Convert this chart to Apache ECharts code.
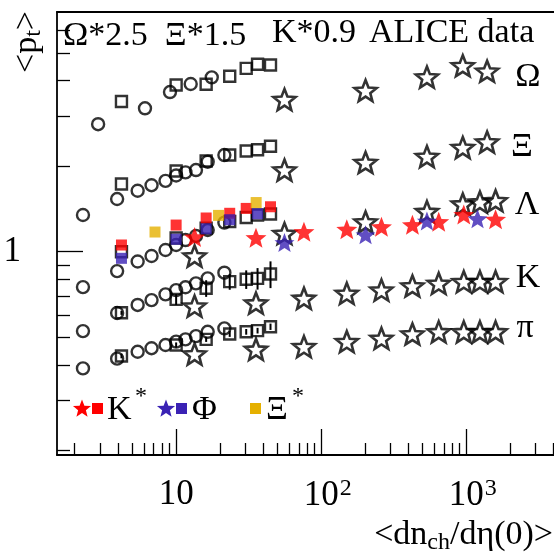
<!DOCTYPE html>
<html><head><meta charset="utf-8">
<script src="https://cdn.jsdelivr.net/npm/echarts@6/dist/echarts.min.js"></script>
<style>html,body{margin:0;padding:0;background:#fff}#c{width:554px;height:558px}</style>
</head><body><div id="c"></div>
<script>
// ---- x positions (<dNch/deta(0)>) ----
const xPP       = [2.28, 3.92, 5.43, 6.77, 8.45, 10.0, 11.6, 13.7, 16.5, 21.5];
const xPPOmega  = [2.9, 6.1, 9.07, 12.6, 17.6];
const xPPb      = [4.2, 10.0, 16.1, 23.4, 30.4, 36.4, 44.7];
const xPbPb     = [13.4, 35.5, 76, 150, 260, 425, 645, 960, 1240, 1590];
const xPbPbOX   = [55.8, 202, 535, 945, 1390];
const xPbPbL    = [13.4, 55.8, 202, 535, 945, 1240, 1590];
// ---- <pT> values (as plotted, incl. scale factors) ----
const omegaPP   = [2.807, 3.192, 3.641, 3.886, 4.102];
const omegaPPb  = [3.373, 3.854, 3.880, 4.139, 4.412, 4.560, 4.531];
const omegaPbPb = [3.428, 3.687, 4.112, 4.506, 4.310];
const xiPP      = [1.346, 1.532, 1.638, 1.713, 1.775, 1.853, 1.901, 1.937, 2.072, 2.187];
const xiPPb     = [1.730, 1.921, 2.084, 2.187, 2.259, 2.283, 2.347];
const xiPbPb    = [1.937, 2.059, 2.161, 2.324, 2.430];
const lamPP     = [0.751, 0.855, 0.924, 0.966, 1.014, 1.056, 1.099, 1.136, 1.192, 1.266];
const lamPPb    = [1.000, 1.117, 1.211, 1.277, 1.319, 1.346, 1.357];
const lamPbPb   = [0.966, 1.159, 1.272, 1.384, 1.471, 1.495, 1.511];
const kPP       = [0.526, 0.609, 0.650, 0.676, 0.708, 0.733, 0.750, 0.774, 0.806, 0.844];
const kPPb      = [0.610, 0.680, 0.744, 0.785, 0.800, 0.806, 0.835];
const kPPbErr   = [0.010, 0.030, 0.050, 0.050, 0.060, 0.070, 0.090];
const kPbPb     = [0.644, 0.660, 0.686, 0.714, 0.733, 0.758, 0.774, 0.785, 0.785, 0.785];
const piPP      = [0.389, 0.421, 0.445, 0.458, 0.470, 0.483, 0.492, 0.505, 0.523, 0.538];
const piPPb     = [0.430, 0.470, 0.492, 0.514, 0.523, 0.528, 0.545];
const piPPbErr  = [0.008, 0.010, 0.010, 0.012, 0.012, 0.012, 0.014];
const piPbPb    = [0.437, 0.454, 0.464, 0.483, 0.496, 0.514, 0.523, 0.523, 0.523, 0.523];
// resonances
const kstX_PbPb = [13.4, 35.5, 76, 150, 260, 425, 645, 960, 1590];
const kstPbPb   = [1.126, 1.120, 1.176, 1.199, 1.224, 1.244, 1.275, 1.351, 1.300];
const phiX_PbPb = [55.8, 202, 535, 1194];
const phiPbPb   = [1.077, 1.147, 1.282, 1.306];
const kstX_PPb  = [4.2, 10.0, 16.1, 23.4, 30.4, 44.7];
const kstPPb    = [1.056, 1.241, 1.314, 1.365, 1.420, 1.439];
const phiX_PPb  = [4.2, 10.0, 16.1, 23.4, 36.4];
const phiPPb    = [0.948, 1.106, 1.204, 1.296, 1.360];
const xstX_PPb  = [7.15, 19.6, 35.6];
const xstPPb    = [1.173, 1.342, 1.489];
// axes
const X_MIN = 1.51, X_MAX = 4018, Y_MIN = 0.193, Y_MAX = 6.96;
const xMinorTicks = [2,3,4,5,6,7,8,9,20,30,40,50,60,70,80,90,200,300,400,500,600,700,800,900,2000,3000,4000];
const xMajorTicks = [10, 100, 1000];
const yMinorTicks = [0.2,0.3,0.4,0.5,0.6,0.7,0.8,0.9,2,3,4,5,6];
const yMajorTicks = [1];

const FONT = 'Liberation Serif';
const RED = '#ff0000', BLUE = '#3a22b4', GOLD = '#e5b000';

function starPath(inner){
  let p = '';
  for (let i = 0; i < 10; i++) {
    const a = -Math.PI/2 + i*Math.PI/5, r = i % 2 ? inner : 1;
    p += (i ? 'L' : 'M') + (r*Math.cos(a)*100).toFixed(2) + ' ' + (r*Math.sin(a)*100).toFixed(2) + ' ';
  }
  return 'path://' + p + 'Z';
}
const STAR = starPath(0.43);
function starPts(cx, cy, r, inner){
  const pts = [];
  for (let i = 0; i < 10; i++) {
    const a = -Math.PI/2 + i*Math.PI/5, rr = i % 2 ? r*inner : r;
    pts.push([cx + rr*Math.cos(a), cy + rr*Math.sin(a)]);
  }
  return pts;
}
const zip = (xs, ys) => xs.map((x, i) => [x, ys[i]]);
const zipErr = (xs, ys, es) => xs.map((x, i) => [x, ys[i] - es[i], ys[i] + es[i]]);

const openCircle = {symbol:'circle', symbolSize:12, itemStyle:{color:'rgba(0,0,0,0)', borderColor:'#000', borderWidth:2.4}};
const openSquare = {symbol:'rect', symbolSize:11, itemStyle:{color:'rgba(0,0,0,0)', borderColor:'#000', borderWidth:2.4}};
const openStar   = {symbol:STAR, symbolSize:22, symbolKeepAspect:true, itemStyle:{color:'rgba(0,0,0,0)', borderColor:'#000', borderWidth:2.6}};

function sc(data, style){
  return Object.assign({type:'scatter', xAxisIndex:0, yAxisIndex:0, data, silent:true, animation:false}, style);
}
function errBars(data){
  return {type:'custom', xAxisIndex:0, yAxisIndex:0, silent:true, animation:false, data,
    renderItem:(params, api) => {
      const lo = api.coord([api.value(0), api.value(1)]), hi = api.coord([api.value(0), api.value(2)]);
      return {type:'line', shape:{x1:lo[0], y1:lo[1], x2:hi[0], y2:hi[1]}, style:{stroke:'#000', lineWidth:2}};
    }};
}
const series = [
  sc(zip(xPPOmega, omegaPP), openCircle), sc(zip(xPPb, omegaPPb), openSquare), sc(zip(xPbPbOX, omegaPbPb), openStar),
  sc(zip(xPP, xiPP), openCircle), sc(zip(xPPb, xiPPb), openSquare), sc(zip(xPbPbOX, xiPbPb), openStar),
  sc(zip(xPP, lamPP), openCircle), sc(zip(xPPb, lamPPb), openSquare), sc(zip(xPbPbL, lamPbPb), openStar),
  sc(zip(xPP, kPP), openCircle), sc(zip(xPPb, kPPb), openSquare), sc(zip(xPbPb, kPbPb), openStar),
  errBars(zipErr(xPPb, kPPb, kPPbErr)),
  sc(zip(xPP, piPP), openCircle), sc(zip(xPPb, piPPb), openSquare), sc(zip(xPbPb, piPbPb), openStar),
  errBars(zipErr(xPPb, piPPb, piPPbErr)),
  sc(zip(kstX_PPb, kstPPb), {symbol:'rect', symbolSize:11, itemStyle:{color:RED}}),
  sc(zip(phiX_PPb, phiPPb), {symbol:'rect', symbolSize:11, itemStyle:{color:BLUE}}),
  sc(zip(xstX_PPb, xstPPb), {symbol:'rect', symbolSize:11, itemStyle:{color:GOLD}}),
  sc(zip(kstX_PbPb, kstPbPb), {symbol:STAR, symbolSize:21, symbolKeepAspect:true, itemStyle:{color:RED}}),
  sc(zip(phiX_PbPb, phiPbPb), {symbol:STAR, symbolSize:20, symbolKeepAspect:true, itemStyle:{color:BLUE}})
];

const axisLineStyle = {color:'#000', width:1.8};
const tickStyle = {color:'#000', width:1.3};
const GRID = {left:57, top:12, width:499, height:443};

const option = {
  backgroundColor:'#fff',
  animation:false,
  grid:[Object.assign({}, GRID), Object.assign({}, GRID)],
  xAxis:[
    {type:'log', gridIndex:0, position:'bottom', min:X_MIN, max:X_MAX,
     axisLine:{show:true, lineStyle:axisLineStyle},
     axisTick:{show:true, inside:true, length:12, customValues:xMinorTicks, lineStyle:tickStyle},
     axisLabel:{show:false}, splitLine:{show:false}, minorTick:{show:false}},
    {type:'log', gridIndex:1, position:'bottom', min:X_MIN, max:X_MAX,
     axisLine:{show:false},
     axisTick:{show:true, inside:true, length:26, customValues:xMajorTicks, lineStyle:tickStyle},
     axisLabel:{show:true, customValues:xMajorTicks, margin:22,
       formatter: v => { const e = Math.round(Math.log10(v)); return e === 1 ? '{b|10}' : '{pad|}{b|10}{sup|' + e + '}'; },
       rich:{b:{fontFamily:FONT, fontSize:35, color:'#000'},
             sup:{fontFamily:FONT, fontSize:24, color:'#000', padding:[0,0,14,1]},
             pad:{width:13}}},
     splitLine:{show:false}},
    {type:'log', gridIndex:0, position:'top', min:X_MIN, max:X_MAX,
     axisLine:{show:true, lineStyle:axisLineStyle}, axisTick:{show:false}, axisLabel:{show:false}, splitLine:{show:false}}
  ],
  yAxis:[
    {type:'log', gridIndex:0, position:'left', min:Y_MIN, max:Y_MAX,
     axisLine:{show:true, lineStyle:axisLineStyle},
     axisTick:{show:true, inside:true, length:13, customValues:yMinorTicks, lineStyle:tickStyle},
     axisLabel:{show:false}, splitLine:{show:false}, minorTick:{show:false}},
    {type:'log', gridIndex:1, position:'left', min:Y_MIN, max:Y_MAX,
     axisLine:{show:false},
     axisTick:{show:true, inside:true, length:26, customValues:yMajorTicks, lineStyle:tickStyle},
     axisLabel:{show:true, customValues:yMajorTicks, margin:36, fontFamily:FONT, fontSize:35, color:'#000'},
     splitLine:{show:false}}
  ],
  series,
  graphic:[
    // header
    {type:'text', x:63, y:36, style:{text:'Ω*2.5  Ξ*1.5', font:'34px "Liberation Serif"', fill:'#000', verticalAlign:'middle'}},
    {type:'text', x:272, y:33, style:{text:'K*0.9', font:'34px "Liberation Serif"', fill:'#000', verticalAlign:'middle'}},
    {type:'text', x:369, y:33, style:{text:'ALICE data', font:'34px "Liberation Serif"', fill:'#000', verticalAlign:'middle'}},
    // particle labels
    {type:'text', x:528, y:77, style:{text:'Ω', font:'34px "Liberation Serif"', fill:'#000', align:'center', verticalAlign:'middle'}},
    {type:'text', x:522, y:147, style:{text:'Ξ', font:'34px "Liberation Serif"', fill:'#000', align:'center', verticalAlign:'middle'}},
    {type:'text', x:527, y:205, style:{text:'Λ', font:'34px "Liberation Serif"', fill:'#000', align:'center', verticalAlign:'middle'}},
    {type:'text', x:528, y:278, style:{text:'K', font:'34px "Liberation Serif"', fill:'#000', align:'center', verticalAlign:'middle'}},
    {type:'text', x:525, y:328, style:{text:'π', font:'34px "Liberation Serif"', fill:'#000', align:'center', verticalAlign:'middle'}},
    // y title
    {type:'text', x:27, y:42, rotation:Math.PI/2,
     style:{text:'<{b|p}{s|t}>', font:'34px "Liberation Serif"', fill:'#000', align:'center', verticalAlign:'middle',
       rich:{b:{fontFamily:FONT, fontSize:34}, s:{fontFamily:FONT, fontSize:24, padding:[14,0,0,0]}}}},
    // x title
    {type:'text', x:553, y:535, style:{text:'<dn{s|ch}/dη(0)>', font:'34px "Liberation Serif"', fill:'#000', align:'right', verticalAlign:'middle',
       rich:{s:{fontFamily:FONT, fontSize:24, padding:[16,0,0,0]}}}},
    // legend
    {type:'polygon', shape:{points:starPts(82, 409, 9.5, 0.43)}, style:{fill:RED}},
    {type:'rect', shape:{x:92, y:403, width:11, height:11}, style:{fill:RED}},
    {type:'text', x:107, y:410, style:{text:'K', font:'34px "Liberation Serif"', fill:'#000', verticalAlign:'middle'}},
    {type:'text', x:135, y:397, style:{text:'*', font:'24px "Liberation Serif"', fill:'#000', verticalAlign:'middle'}},
    {type:'polygon', shape:{points:starPts(166, 409, 9.5, 0.43)}, style:{fill:BLUE}},
    {type:'rect', shape:{x:176, y:403, width:11, height:11}, style:{fill:BLUE}},
    {type:'text', x:192, y:410, style:{text:'Φ', font:'34px "Liberation Serif"', fill:'#000', verticalAlign:'middle'}},
    {type:'rect', shape:{x:250, y:403, width:11, height:11}, style:{fill:GOLD}},
    {type:'text', x:266, y:410, style:{text:'Ξ', font:'34px "Liberation Serif"', fill:'#000', verticalAlign:'middle'}},
    {type:'text', x:292, y:397, style:{text:'*', font:'24px "Liberation Serif"', fill:'#000', verticalAlign:'middle'}}
  ]
};
echarts.init(document.getElementById('c'), null, {renderer:'canvas'}).setOption(option);
</script></body></html>
